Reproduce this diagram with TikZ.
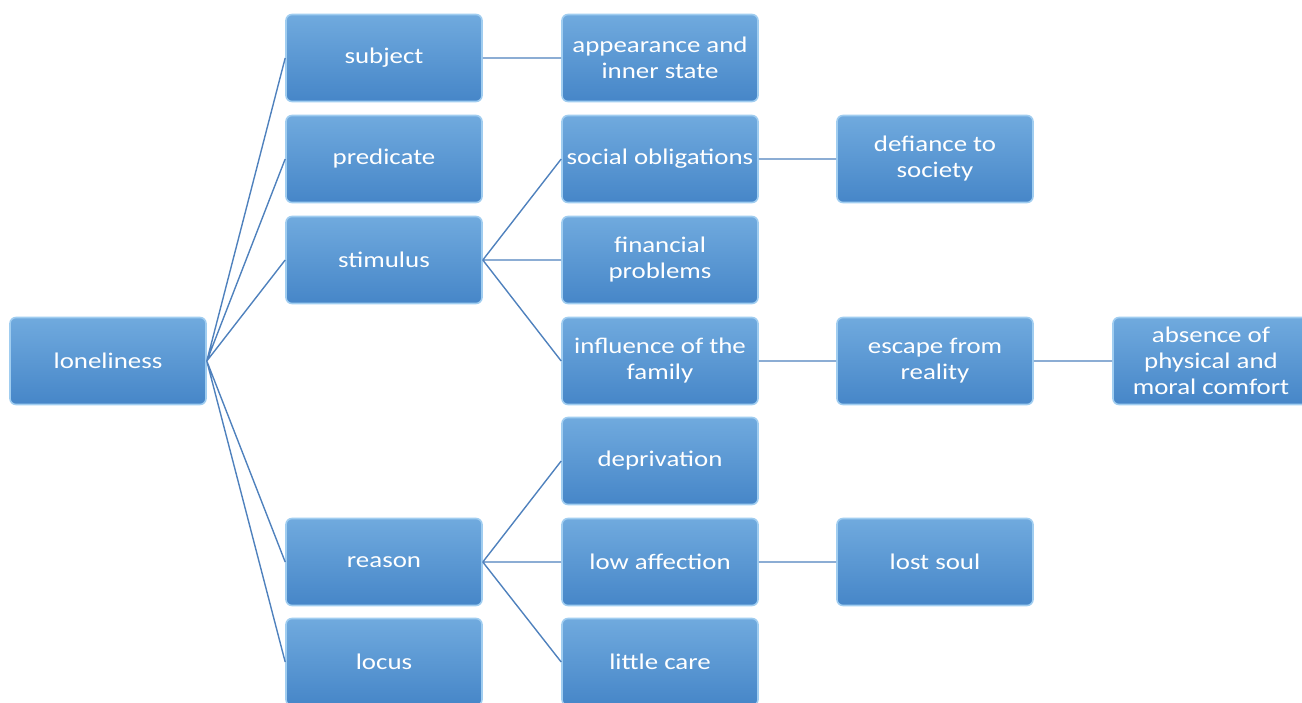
\documentclass[tikz,border=0pt]{standalone}
\usepackage{fontspec}
\setmainfont[FakeStretch=1.2]{Carlito}
\usepackage{tikz}
\usetikzlibrary{calc}
\definecolor{boxtop}{RGB}{112,170,222}
\definecolor{boxbot}{RGB}{70,134,200}
\definecolor{boxedge}{RGB}{160,205,240}
\definecolor{linkblue}{RGB}{79,129,189}

\begin{document}
\begin{tikzpicture}[x=0.5pt,y=-0.5pt,
    box/.style={rectangle, rounded corners=3pt, top color=boxtop, bottom color=boxbot,
      draw=boxedge, line width=0.8pt, minimum width=98pt, minimum height=43.5pt,
      inner xsep=0.5pt, align=center, text=white, font=\fontsize{11.2}{13}\selectfont},
    link/.style={draw=linkblue, line width=0.7pt}]
      \useasboundingbox (0,0) rectangle (1302,702);

      % root
      \node (lon) at (108,361) [box] {loneliness};

      % first level
      \node (subj) at (384,58)  [box] {subject};
      \node (pred) at (384,159) [box] {predicate};
      \node (stim) at (384,260) [box] {stimulus};
      \node (reas) at (384,562) [box] {reason};
      \node (loc)  at (384,662) [box] {locus};

      % second level
      \node (app)  at (660,58)  [box] {appearance and\\inner state};
      \node (soc)  at (660,159) [box] {social obligations};
      \node (fin)  at (660,260) [box] {financial\\problems};
      \node (fam)  at (660,361) [box] {influence of the\\family};
      \node (dep)  at (660,461) [box] {deprivation};
      \node (low)  at (660,562) [box] {low affection};
      \node (care) at (660,662) [box] {little care};

      % third level
      \node (def)  at (935,159) [box] {defiance to\\society};
      \node (esc)  at (935,361) [box] {escape from\\reality};
      \node (lost) at (935,562) [box] {lost soul};

      % fourth level
      \node (abs)  at (1211,361) [box] {absence of\\physical and\\moral comfort};

      \draw[link]
      (lon.east) to (subj.west)
      (lon.east) to (pred.west)
      (lon.east) to (stim.west)
      (lon.east) to (reas.west)
      (lon.east) to (loc.west)
      (subj.east) to (app.west)
      (stim.east) to (soc.west)
      (stim.east) to (fin.west)
      (stim.east) to (fam.west)
      (reas.east) to (dep.west)
      (reas.east) to (low.west)
      (reas.east) to (care.west)
      (soc.east) to (def.west)
      (fam.east) to (esc.west)
      (esc.east) to (abs.west)
      (low.east) to (lost.west);
\end{tikzpicture}
\end{document}
